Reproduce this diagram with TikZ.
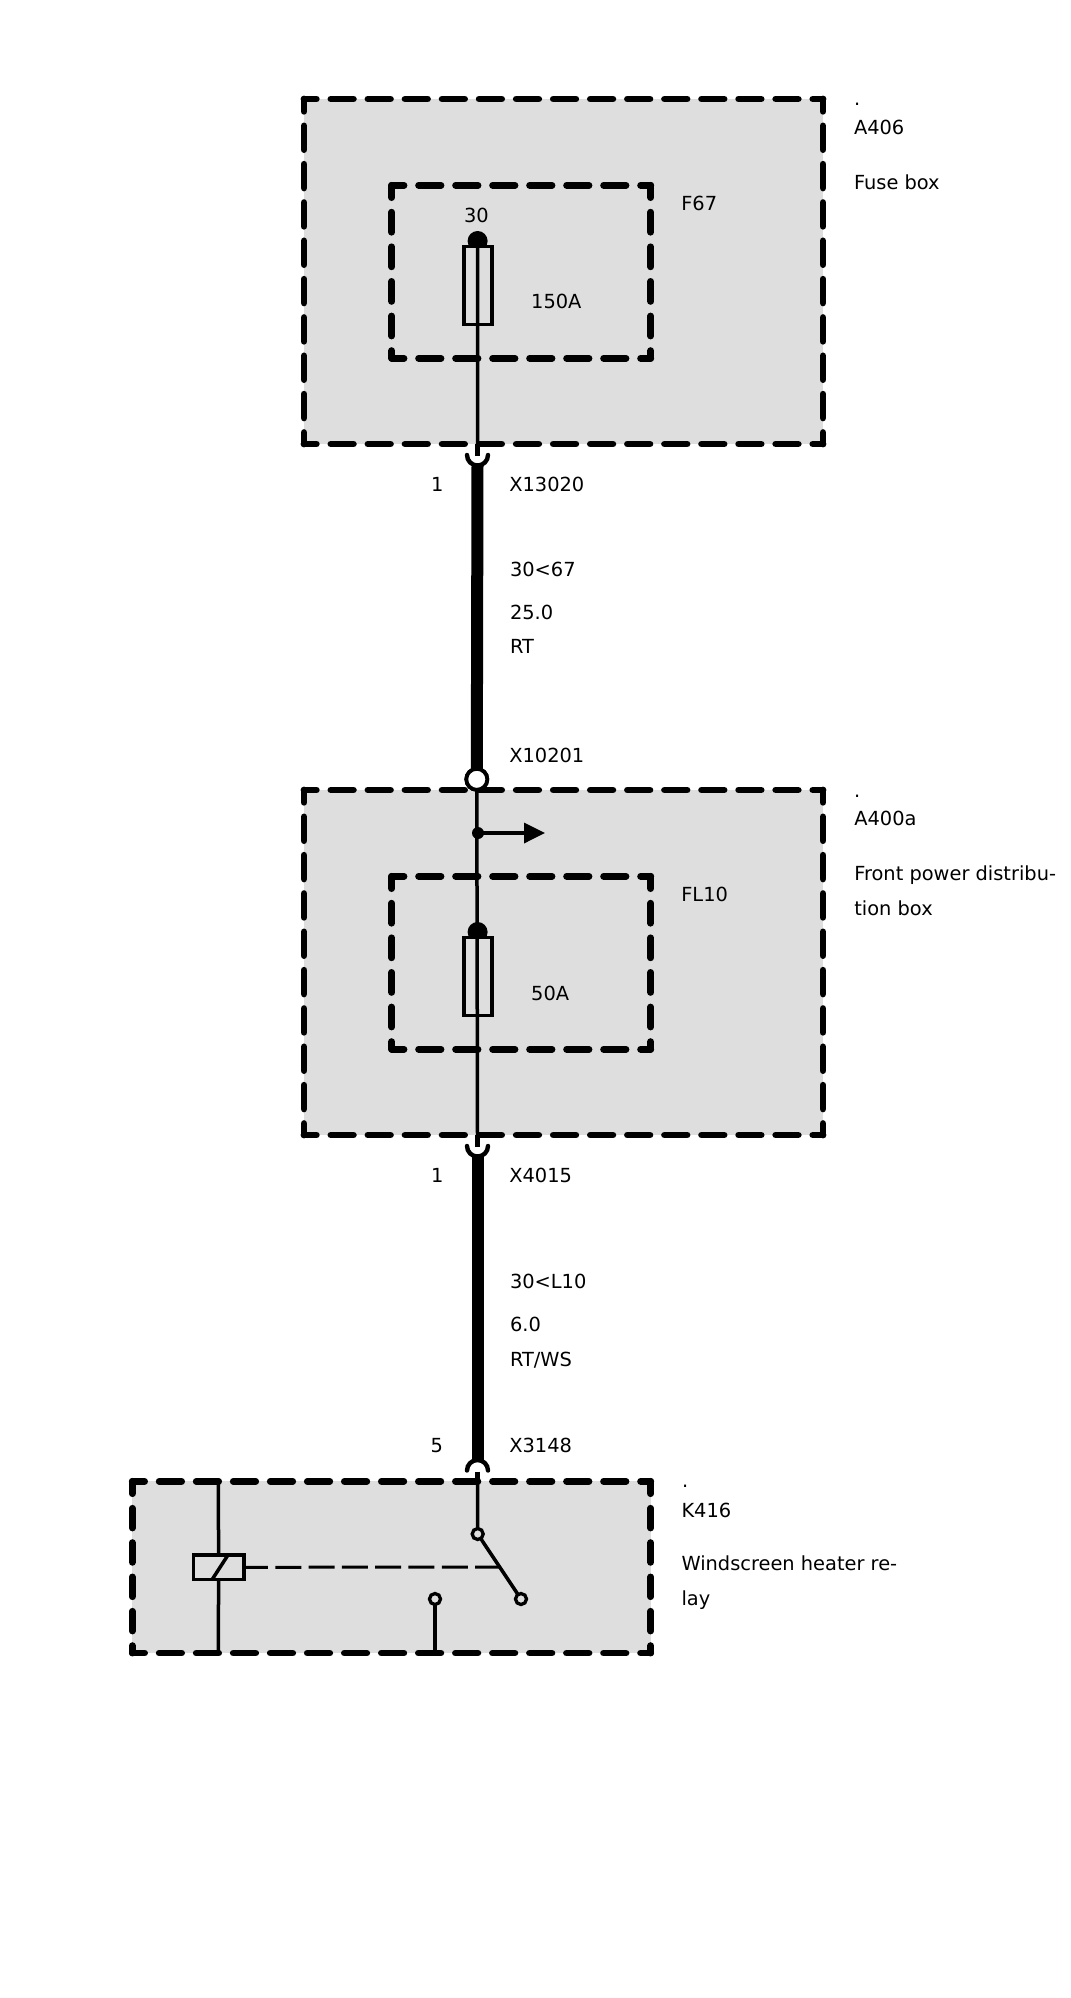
\documentclass[tikz,border=0pt]{standalone}
\usepackage{fontspec}
\setmainfont{DejaVu Sans}
\usetikzlibrary{arrows.meta}
\definecolor{boxgrey}{HTML}{DEDEDE}
\tikzset{
  panel/.style={fill=boxgrey,draw=none,rectangle,inner sep=0pt,outer sep=0pt},
  edge/.style={line width=6.8pt,line cap=round,black},
  wire/.style={line width=3.5pt,black},
  stub/.style={line width=5.2pt,black},
  cable/.style={line width=12pt,black},
  cup/.style={line width=4.4pt,line cap=round,black},
  fuse/.style={rectangle,draw=black,fill=boxgrey,line width=3.3pt,inner sep=0pt,outer sep=0pt,minimum width=28pt,minimum height=77.5pt},
  fusedot/.style={circle,fill=black,inner sep=0pt,minimum size=20pt},
  tap/.style={circle,fill=black,inner sep=0pt,minimum size=12pt},
  contact/.style={circle,draw=black,fill=boxgrey,line width=3.3pt,inner sep=0pt,outer sep=0pt,minimum size=11pt},
  socket/.style={circle,draw=black,fill=white,line width=3.8pt,inner sep=0pt,outer sep=0pt,minimum size=21pt},
  coil/.style={rectangle,draw=black,fill=boxgrey,line width=3.3pt,inner sep=0pt,outer sep=0pt,minimum width=50.7pt,minimum height=24.7pt},
  lbl/.style={anchor=base west,inner sep=0pt,outer sep=0pt,font=\fontsize{19.4}{23}\selectfont},
  link/.style={line width=3pt,black,dash pattern=on 26pt off 7.3pt,dash phase=2pt},
}
\newcommand{\panelsides}[3]{%
  \pgfmathsetmacro{\onh}{#2-14.6}\pgfmathsetmacro{\phh}{\onh-12.3}%
  \pgfmathsetmacro{\onv}{#3-14.6}\pgfmathsetmacro{\phv}{\onv-12.3}%
  \draw[edge,dash pattern=on \onh pt off 14.6pt,dash phase=\phh pt] (#1.north west)--(#1.north east);
  \draw[edge,dash pattern=on \onh pt off 14.6pt,dash phase=\phh pt] (#1.south west)--(#1.south east);
  \draw[edge,dash pattern=on \onv pt off 14.6pt,dash phase=\phv pt] (#1.north west)--(#1.south west);
  \draw[edge,dash pattern=on \onv pt off 14.6pt,dash phase=\phv pt] (#1.north east)--(#1.south east);
}
\begin{document}
\begin{tikzpicture}[x=1pt,y=-1pt]
\useasboundingbox (0,0) rectangle (1071,1998);
% panels
\node[panel,minimum width=519pt,minimum height=345pt] (A406) at (563.5,271.5) {};
\node[panel,minimum width=519pt,minimum height=345pt] (A400) at (563.5,962.5) {};
\node[panel,minimum width=518.4pt,minimum height=171.7pt] (K416) at (391.5,1567.2) {};
\node[draw=none,rectangle,inner sep=0pt,outer sep=0pt,minimum width=259pt,minimum height=173pt] (F67) at (521.2,271.8) {};
\node[draw=none,rectangle,inner sep=0pt,outer sep=0pt,minimum width=259pt,minimum height=173pt] (FL10) at (521.2,962.8) {};
\panelsides{A406}{37.07}{38.33}
\panelsides{A400}{37.07}{38.33}
\panelsides{K416}{37.03}{34.34}
\panelsides{F67}{37}{34.6}
\panelsides{FL10}{37}{34.6}
% fuses
\node[fusedot] (d1) at (477.6,241) {};
\node[fuse] (f1) at (478,285.4) {};
\node[fusedot] (d2) at (477.6,932) {};
\node[fuse] (f2) at (478,976.4) {};
% connector points
\coordinate (s1a) at (477.5,444);
\coordinate (s1b) at (477.5,456);
\coordinate (c1) at (467,455);
\coordinate (k1) at (477.5,465);
\coordinate (s2a) at (477.5,1135);
\coordinate (s2b) at (477.5,1147);
\coordinate (c2) at (467,1146);
\coordinate (k2) at (477.5,1156);
\coordinate (s3a) at (477.5,1481);
\coordinate (s3b) at (477.5,1471.5);
\coordinate (c3) at (467,1470.5);
\coordinate (k3) at (477.5,1460.5);
\coordinate (b1) at (218.3,1481);
\coordinate (b2) at (218.3,1653);
\coordinate (b3) at (435,1653);
\coordinate (sl1) at (212,1579.7);
\coordinate (sl2) at (228,1555);
\coordinate (armp) at (499.7,1567);
\coordinate (arrowend) at (545,833);
% socket
\node[socket] (sock) at (476.8,779.3) {};
% wires
\draw[wire] (d1.center) -- (s1a);
\draw[stub] (s1a) -- (s1b);
\draw[cup] (c1) arc[start angle=180,end angle=360,radius=10.5pt];
\draw[cable] (k1) -- (sock.north);
\node[socket] at (sock.center) {};
\draw[wire] (sock.south) -- (s2a);
\draw[stub] (s2a) -- (s2b);
\draw[cup] (c2) arc[start angle=180,end angle=360,radius=10.5pt];
\draw[cable] (k2) -- (k3);
\draw[cup] (c3) arc[start angle=180,end angle=0,radius=10.5pt];
\draw[stub] (s3b) -- (s3a);
\node[tap] (t1) at (478,833) {};
\draw[wire,-{Triangle[length=21pt,width=20pt]}] (t1.center) -- (arrowend);
% relay
\node[contact] (sw1) at (477.7,1534) {};
\node[contact] (sw2) at (521,1599) {};
\node[contact] (sw3) at (435,1599) {};
\node[coil] (rl) at (218.6,1567.3) {};
\draw[wire] (s3a) -- (sw1);
\draw[wire] (sw1) -- (sw2);
\draw[wire] (sw3) -- (b3);
\draw[wire] (b1) -- (rl.north);
\draw[wire] (rl.south) -- (b2);
\draw[wire] (sl1) -- (sl2);
\draw[link] (rl.east) -- (armp);
% labels
\node[lbl] (tA406d) at (854,105.7) {.};
\node[lbl] (tA406) at (854,134.7) {A406};
\node[lbl] (tFuse) at (854,189) {Fuse box};
\node[lbl] (tF67) at (681.3,210.5) {F67};
\node[lbl] (t30) at (464,222.7) {30};
\node[lbl] (t150) at (531.2,308) {150A};
\node[lbl] (t1a) at (431,491.7) {1};
\node[lbl] (tX13020) at (509.3,491.7) {X13020};
\node[lbl] (tw1) at (510,576.7) {30<67};
\node[lbl] (tw2) at (510,619.3) {25.0};
\node[lbl] (tw3) at (510,653.3) {RT};
\node[lbl] (tX10201) at (509.3,762.7) {X10201};
\node[lbl] (tA400d) at (854,797.7) {.};
\node[lbl] (tA400) at (854.3,825.7) {A400a};
\node[lbl] (tFront) at (854.3,880.6) {Front power distribu-};
\node[lbl] (tFront2) at (854.3,915.6) {tion box};
\node[lbl] (tFL10) at (681.3,901.5) {FL10};
\node[lbl] (t50) at (531.2,1000) {50A};
\node[lbl] (t1b) at (431.2,1182.7) {1};
\node[lbl] (tX4015) at (509.3,1182.7) {X4015};
\node[lbl] (tv1) at (510,1288.7) {30<L10};
\node[lbl] (tv2) at (510,1331) {6.0};
\node[lbl] (tv3) at (510,1366) {RT/WS};
\node[lbl] (t5) at (430.5,1452.7) {5};
\node[lbl] (tX3148) at (509.3,1452.7) {X3148};
\node[lbl] (tK416d) at (682,1487.7) {.};
\node[lbl] (tK416) at (681.5,1517) {K416};
\node[lbl] (tWind) at (681.5,1570.5) {Windscreen heater re-};
\node[lbl] (tWind2) at (681.5,1605.6) {lay};
\end{tikzpicture}
\end{document}
